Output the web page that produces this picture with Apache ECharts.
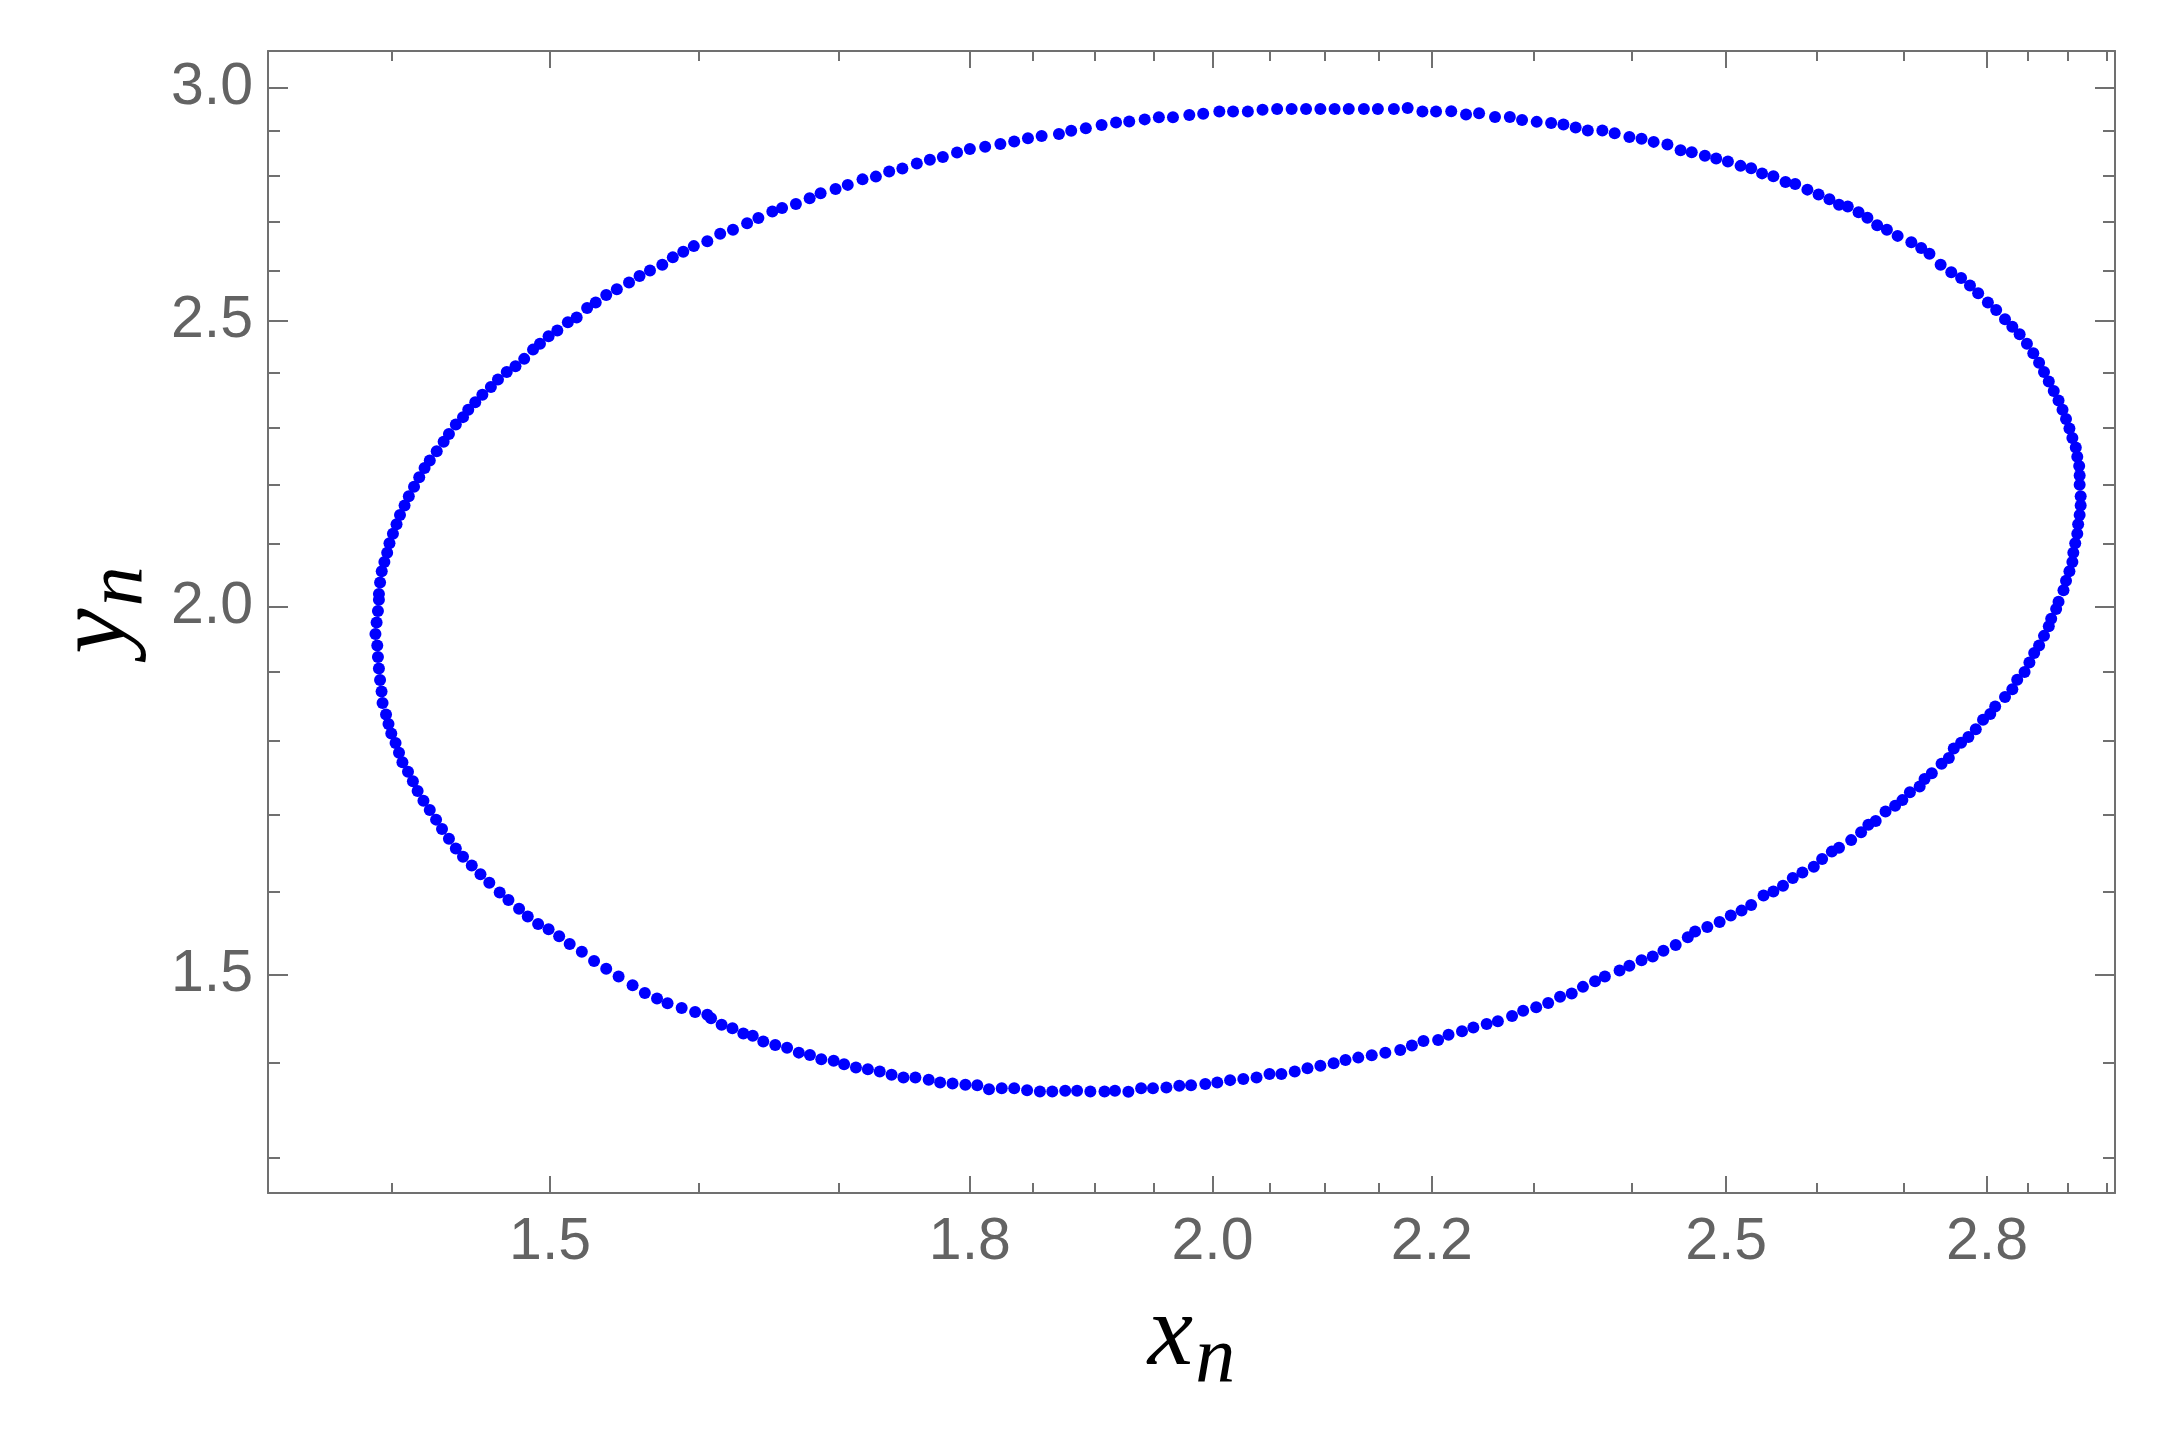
<!DOCTYPE html>
<html>
<head>
<meta charset="utf-8">
<script src="https://cdn.jsdelivr.net/npm/echarts@6/dist/echarts.min.js"></script>
<style>
html,body{margin:0;padding:0;background:#ffffff;}
#chart{width:2165px;height:1431px;}
</style>
</head>
<body>
<div id="chart"></div>
<script>
// ---------------- data ----------------
const xRange = [1.327, 2.960];
const yRange = [1.2645, 3.0866];
const xMajorTicks = [1.5, 1.8, 2.0, 2.2, 2.5, 2.8];
const xMinorTicks = [1.4, 1.6, 1.7, 1.85, 1.9, 1.95, 2.05, 2.1, 2.15, 2.3, 2.4, 2.6, 2.7, 2.85, 2.9, 2.95];
const yMajorTicks = [1.5, 2.0, 2.5, 3.0];
const yMinorTicks = [1.3, 1.4, 1.6, 1.7, 1.8, 1.9, 2.1, 2.2, 2.3, 2.4, 2.6, 2.7, 2.8, 2.9];

// points (x_n, y_n), grouped by arc of the closed curve
const leftUpper = [[1.5966,2.6501],[1.5893,2.6383],[1.5821,2.6269],[1.5749,2.6117],[1.5665,2.6002],[1.5594,2.5889],[1.5523,2.5759],[1.5441,2.5621],[1.5370,2.5508],[1.5300,2.5357],[1.5243,2.5248],[1.5174,2.5065],[1.5116,2.4969],[1.5047,2.4808],[1.4990,2.4699],[1.4934,2.4553],[1.4889,2.4442],[1.4832,2.4266],[1.4776,2.4125],[1.4720,2.4018],[1.4664,2.3878],[1.4619,2.3737],[1.4565,2.3597],[1.4520,2.3456],[1.4476,2.3321],[1.4443,2.3186],[1.4398,2.3051],[1.4355,2.2882],[1.4322,2.2745],[1.4279,2.2577],[1.4236,2.2414],[1.4204,2.2284],[1.4171,2.2121],[1.4139,2.1958],[1.4107,2.1796],[1.4081,2.1637],[1.4053,2.1480],[1.4032,2.1324],[1.4010,2.1168],[1.3989,2.1011],[1.3975,2.0855],[1.3958,2.0704],[1.3942,2.0554],[1.3932,2.0374],[1.3925,2.0193]];
const leftLower = [[1.3925,2.0102],[1.3919,1.9925],[1.3911,1.9748],[1.3904,1.9572],[1.3915,1.9395],[1.3919,1.9222],[1.3925,1.9052],[1.3932,1.8881],[1.3941,1.8713],[1.3947,1.8544],[1.3968,1.8380],[1.3983,1.8244],[1.4000,1.8108],[1.4026,1.7972],[1.4047,1.7837],[1.4068,1.7706],[1.4102,1.7575],[1.4132,1.7443],[1.4161,1.7313],[1.4197,1.7182],[1.4236,1.7056],[1.4275,1.6929],[1.4312,1.6804],[1.4355,1.6677],[1.4398,1.6551],[1.4443,1.6444],[1.4498,1.6332],[1.4553,1.6221],[1.4609,1.6115],[1.4675,1.5993],[1.4731,1.5897],[1.4799,1.5790],[1.4855,1.5696],[1.4922,1.5604],[1.4990,1.5538],[1.5059,1.5454],[1.5128,1.5361],[1.5208,1.5268],[1.5289,1.5157],[1.5370,1.5067],[1.5453,1.4977],[1.5547,1.4873],[1.5630,1.4784],[1.5713,1.4721],[1.5785,1.4665],[1.5882,1.4611],[1.5975,1.4566]];
const bottomArc = [[1.6060,1.4534],[1.6086,1.4496],[1.6160,1.4422],[1.6236,1.4383],[1.6313,1.4323],[1.6380,1.4298],[1.6455,1.4233],[1.6541,1.4196],[1.6626,1.4166],[1.6711,1.4111],[1.6792,1.4086],[1.6875,1.4038],[1.6966,1.4021],[1.7043,1.3984],[1.7131,1.3948],[1.7220,1.3930],[1.7309,1.3905],[1.7398,1.3869],[1.7488,1.3840],[1.7579,1.3840],[1.7681,1.3815],[1.7769,1.3786],[1.7865,1.3775],[1.7965,1.3761],[1.8058,1.3757],[1.8150,1.3713],[1.8251,1.3724],[1.8350,1.3724],[1.8453,1.3703],[1.8556,1.3689],[1.8656,1.3689],[1.8761,1.3696],[1.8858,1.3696],[1.8967,1.3689],[1.9084,1.3689],[1.9171,1.3696],[1.9283,1.3685],[1.9390,1.3724],[1.9490,1.3724],[1.9604,1.3732],[1.9714,1.3750],[1.9815,1.3757],[1.9938,1.3768],[2.0042,1.3786],[2.0154,1.3811],[2.0270,1.3822],[2.0387,1.3840],[2.0502,1.3876],[2.0608,1.3876],[2.0728,1.3905],[2.0843,1.3941],[2.0960,1.3967],[2.1081,1.3995],[2.1190,1.4029],[2.1308,1.4056],[2.1433,1.4083]];
const lowerRight = [[2.156,1.411],[2.170,1.414],[2.181,1.419],[2.192,1.424],[2.206,1.425],[2.216,1.431],[2.229,1.435],[2.240,1.439],[2.253,1.443],[2.264,1.446],[2.278,1.452],[2.289,1.458],[2.302,1.462],[2.314,1.467],[2.326,1.474],[2.3378,1.4777],[2.3492,1.4855],[2.3616,1.4921],[2.3717,1.4975],[2.3869,1.5047],[2.3971,1.5101],[2.4098,1.5168],[2.4215,1.5212],[2.4328,1.5280],[2.4458,1.5349],[2.4587,1.5442],[2.4665,1.5511],[2.4796,1.5567],[2.4929,1.5628],[2.5050,1.5707],[2.5168,1.5767],[2.5273,1.5837],[2.5409,1.5955],[2.5518,1.6003],[2.5625,1.6075],[2.5734,1.6173],[2.5842,1.6245],[2.5970,1.6317],[2.6064,1.6415],[2.6174,1.6511],[2.6256,1.6560],[2.6395,1.6660],[2.6509,1.6762],[2.6593,1.6862],[2.6678,1.6912],[2.6792,1.7038],[2.6904,1.7114],[2.6989,1.7189],[2.7077,1.7294],[2.7192,1.7372],[2.7250,1.7476],[2.7336,1.7554],[2.7452,1.7686],[2.7539,1.7764],[2.7598,1.7895],[2.7686,1.7977],[2.7774,1.8058],[2.7863,1.8167],[2.7951,1.8303],[2.8039,1.8385],[2.8099,1.8493],[2.8219,1.8631],[2.8309,1.8744],[2.8369,1.8884],[2.8460,1.8999],[2.8520,1.9139],[2.8579,1.9282],[2.8640,1.9397],[2.8701,1.9543],[2.8761,1.9691],[2.8791,1.9808],[2.8853,1.9956],[2.8883,2.0073]];
const rightUpper = [[2.8945,2.0253],[2.8977,2.0403],[2.9020,2.0554],[2.9057,2.0704],[2.9069,2.0855],[2.9093,2.1011],[2.9119,2.1168],[2.9130,2.1324],[2.9149,2.1480],[2.9162,2.1637],[2.9162,2.1796],[2.9149,2.1991],[2.9149,2.2154],[2.9143,2.2317],[2.9119,2.2480],[2.9100,2.2644],[2.9057,2.2813],[2.9020,2.2983],[2.8977,2.3152],[2.8933,2.3321],[2.8883,2.3490],[2.8823,2.3666],[2.8761,2.3842],[2.8701,2.4018],[2.8640,2.4194],[2.8568,2.4372],[2.8489,2.4553],[2.8399,2.4736],[2.8309,2.4882],[2.8219,2.5028],[2.8111,2.5211],[2.8010,2.5357],[2.7892,2.5545],[2.7793,2.5698],[2.7686,2.5850],[2.7568,2.5964],[2.7441,2.6117],[2.7308,2.6344],[2.7210,2.6461],[2.7094,2.6579],[2.6933,2.6714],[2.6808,2.6840],[2.6695,2.6937],[2.6582,2.7095],[2.6480,2.7213],[2.6356,2.7333],[2.6256,2.7373],[2.6147,2.7491],[2.6024,2.7590],[2.5898,2.7697],[2.5761,2.7820],[2.5653,2.7861],[2.5518,2.7986],[2.5393,2.8051],[2.5273,2.8165],[2.5157,2.8216],[2.5019,2.8314],[2.4892,2.8380],[2.4770,2.8439],[2.4629,2.8520],[2.4510,2.8561],[2.4370,2.8691],[2.4225,2.8750],[2.4098,2.8818],[2.3971,2.8861],[2.3818,2.8946],[2.3691,2.9007],[2.3542,2.9007],[2.3418,2.9075],[2.3294,2.9144],[2.3170,2.9178],[2.3025,2.9203],[2.2879,2.9246],[2.2758,2.9314],[2.2612,2.9314],[2.2456,2.9401],[2.2329,2.9373],[2.2186,2.9444]];
const topArc = [[2.204,2.944],[2.191,2.944],[2.177,2.952],[2.164,2.950],[2.149,2.950],[2.136,2.950],[2.122,2.950],[2.109,2.950],[2.096,2.950],[2.083,2.950],[2.070,2.950],[2.057,2.950],[2.044,2.948],[2.031,2.944],[2.018,2.944],[2.006,2.944],[1.992,2.939],[1.980,2.936],[1.966,2.931],[1.954,2.931],[1.942,2.926],[1.929,2.921],[1.918,2.919],[1.906,2.913],[1.893,2.906],[1.881,2.900],[1.871,2.893],[1.857,2.888],[1.846,2.883],[1.835,2.876],[1.824,2.870],[1.812,2.864],[1.800,2.859],[1.790,2.851],[1.779,2.841],[1.769,2.835],[1.759,2.827],[1.748,2.816],[1.738,2.809],[1.728,2.798],[1.718,2.792],[1.707,2.780],[1.698,2.771],[1.687,2.762],[1.679,2.751],[1.669,2.739],[1.659,2.730],[1.652,2.723],[1.642,2.709],[1.634,2.698],[1.624,2.684],[1.615,2.676],[1.606,2.660]];

// ---------------- chart ----------------
// Both axes are logarithmic (log-log plot): values are placed on value axes in natural-log space.
const L = Math.log;
const frameColor = '#707070';
const labelColor = '#636363';

const points = [].concat(leftUpper, leftLower, bottomArc, lowerRight, rightUpper, topArc)
  .map(p => [L(p[0]), L(p[1])]);

function mkAxis(position, range, ticks, len, extra) {
  return Object.assign({
    type: 'value',
    position: position,
    min: L(range[0]),
    max: L(range[1]),
    axisLine: { show: true, onZero: false, lineStyle: { color: frameColor, width: 2 } },
    axisTick: { show: true, inside: true, length: len, customValues: ticks.map(L),
                lineStyle: { color: frameColor, width: 2 } },
    axisLabel: { show: false },
    splitLine: { show: false },
    silent: true
  }, extra || {});
}

const tickFmt = v => Math.exp(v).toFixed(1);

const nameRich = {
  v: { fontFamily: 'Liberation Serif', fontStyle: 'italic', fontSize: 102, lineHeight: 102,
       color: '#000000', verticalAlign: 'top' },
  s: { fontFamily: 'Liberation Serif', fontStyle: 'italic', fontSize: 80, lineHeight: 80,
       color: '#000000', verticalAlign: 'top', padding: [34, 0, 0, 2] }
};

const chart = echarts.init(document.getElementById('chart'), null, { renderer: 'canvas' });
chart.setOption({
  animation: false,
  backgroundColor: '#ffffff',
  grid: { left: 268, right: 50, top: 51, bottom: 238, containLabel: false, outerBoundsMode: 'none' },
  xAxis: [
    mkAxis('bottom', xRange, xMajorTicks, 17, {
      axisLabel: { show: true, customValues: xMajorTicks.map(L), formatter: tickFmt,
                   fontSize: 59, fontFamily: 'Liberation Sans', color: labelColor, margin: 20 },
      name: '{v|x}{s|n}',
      nameLocation: 'middle',
      nameGap: 93,
      nameTextStyle: { rich: nameRich }
    }),
    mkAxis('bottom', xRange, xMinorTicks, 10, { axisLine: { show: false } }),
    mkAxis('top', xRange, xMajorTicks, 17),
    mkAxis('top', xRange, xMinorTicks, 10, { axisLine: { show: false } })
  ],
  yAxis: [
    mkAxis('left', yRange, yMajorTicks, 20, {
      axisLabel: { show: true, customValues: yMajorTicks.map(L), formatter: tickFmt,
                   fontSize: 59, fontFamily: 'Liberation Sans', color: labelColor, margin: 15 },
      name: '{v|y}{s|n}',
      nameLocation: 'middle',
      nameRotate: 90,
      nameGap: 101,
      nameTextStyle: { padding: [0, 0, 0, 24], rich: nameRich }
    }),
    mkAxis('left', yRange, yMinorTicks, 12, { axisLine: { show: false } }),
    mkAxis('right', yRange, yMajorTicks, 20),
    mkAxis('right', yRange, yMinorTicks, 12, { axisLine: { show: false } })
  ],
  series: [{
    type: 'scatter',
    xAxisIndex: 0,
    yAxisIndex: 0,
    data: points,
    symbol: 'circle',
    symbolSize: 12,
    itemStyle: { color: '#0000ff', opacity: 1 },
    silent: true
  }]
});
</script>
</body>
</html>
